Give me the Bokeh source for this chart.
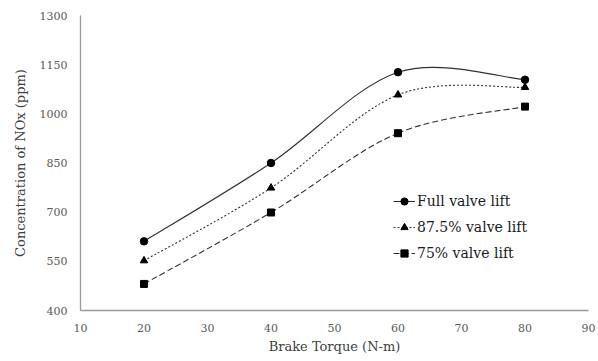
import numpy as np
from bokeh.plotting import figure
from bokeh.models import Legend, LegendItem, FixedTicker, Range1d
from bokeh.embed import file_html
from bokeh.resources import INLINE

torque = [20, 40, 60, 80]
full_lift = [611, 850, 1127, 1104]
lift_875 = [552, 774, 1058, 1081]
lift_75 = [481, 699, 941, 1022]
x_ticks = [10, 20, 30, 40, 50, 60, 70, 80, 90]
y_ticks = [400, 550, 700, 850, 1000, 1150, 1300]
series_names = ["Full valve lift", "87.5% valve lift", "75% valve lift"]

FONT = "DejaVu Serif"

p = figure(width=598, height=361, output_backend="svg", toolbar_location=None,
           x_range=Range1d(10, 90), y_range=Range1d(400, 1300),
           min_border_left=80, min_border_right=10, min_border_top=15, min_border_bottom=51)
p.frame_width = 508
p.frame_height = 295
p.outline_line_color = None
p.xgrid.grid_line_color = None
p.ygrid.grid_line_color = None

for ax in (p.xaxis[0], p.yaxis[0]):
    ax.major_tick_line_color = None
    ax.minor_tick_line_color = None
    ax.axis_line_color = "#999999"
    ax.axis_line_width = 1.3
    ax.major_label_text_font = FONT
    ax.major_label_text_font_size = "11px"
    ax.major_label_text_color = "#595959"
    ax.major_label_standoff = 7
    ax.axis_label_text_font = FONT
    ax.axis_label_text_font_size = "13px"
    ax.axis_label_text_font_style = "normal"
    ax.axis_label_text_color = "#404040"

p.xaxis.ticker = FixedTicker(ticks=x_ticks)
p.yaxis.ticker = FixedTicker(ticks=y_ticks)
p.xaxis.axis_label = "Brake Torque (N-m)"
p.yaxis.axis_label = "Concentration of NOx (ppm)"
p.xaxis.axis_label_standoff = 4
p.yaxis.axis_label_standoff = 9


def bezier_params(xs, ys):
    x = np.asarray(xs, float)
    y = np.asarray(ys, float)
    xp = np.concatenate([[x[0]], x, [x[-1]]])
    yp = np.concatenate([[y[0]], y, [y[-1]]])
    n = len(x)
    d = dict(x0=[], y0=[], x1=[], y1=[], cx0=[], cy0=[], cx1=[], cy1=[])
    for i in range(n - 1):
        j = i + 1
        d["x0"].append(xp[j]); d["y0"].append(yp[j])
        d["x1"].append(xp[j + 1]); d["y1"].append(yp[j + 1])
        d["cx0"].append(xp[j] + (xp[j + 1] - xp[j - 1]) / 6)
        d["cy0"].append(yp[j] + (yp[j + 1] - yp[j - 1]) / 6)
        d["cx1"].append(xp[j + 1] - (xp[j + 2] - xp[j]) / 6)
        d["cy1"].append(yp[j + 1] - (yp[j + 2] - yp[j]) / 6)
    return d


styles = [
    (full_lift, "solid", "circle", 7.5),
    (lift_875, "2 2", "triangle", 7.5),
    (lift_75, "6 3", "square", 7),
]
items = []
for (vals, dash, marker, size), name in zip(styles, series_names):
    b = bezier_params(torque, vals)
    br = p.bezier(x0=b["x0"], y0=b["y0"], x1=b["x1"], y1=b["y1"],
                  cx0=b["cx0"], cy0=b["cy0"], cx1=b["cx1"], cy1=b["cy1"],
                  line_color="#303030", line_width=1.1, line_dash=dash)
    sr = p.scatter(torque, vals, marker=marker, size=size,
                   fill_color="black", line_color="black")
    items.append(LegendItem(label=name, renderers=[br, sr]))

legend = Legend(items=items, location=(313, 48), border_line_color=None,
                background_fill_alpha=0, padding=0, margin=0, spacing=8,
                glyph_width=22, glyph_height=18, label_standoff=2,
                label_text_font=FONT, label_text_font_size="14px",
                label_text_color="#1a1a1a")
p.add_layout(legend, "center")

open("out.html", "w").write(file_html(p, INLINE))
